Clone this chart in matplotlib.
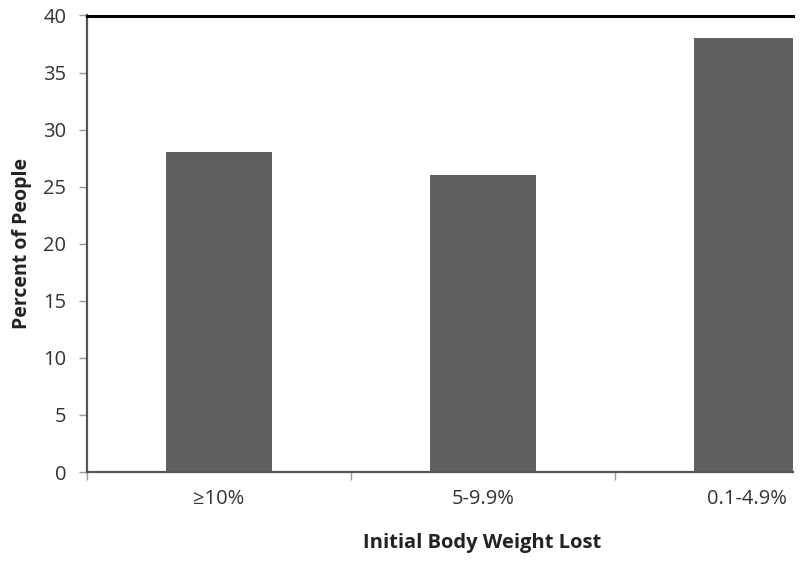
import matplotlib
matplotlib.use("Agg")
import matplotlib.pyplot as plt

# data
categories = ["≥10%", "5-9.9%", "0.1-4.9%"]
percent_people = [28, 26, 38]
y_ticks = [0, 5, 10, 15, 20, 25, 30, 35, 40]

plt.rcParams['font.family'] = ['Open Sans', 'DejaVu Sans']

fig = plt.figure(figsize=(8, 5.62), dpi=100)
# axes runs off the right edge like the cropped original
ax = fig.add_axes([87 / 800, 1 - 472 / 562, (793 - 87) / 800, (472 - 15.5) / 562])

x = list(range(len(categories)))
ax.bar(x, percent_people, width=0.4, color="#606060", zorder=2)

ax.set_xlim(-0.5, 2.174)
ax.set_ylim(0, 40)

ax.set_yticks(y_ticks)
ax.set_yticklabels([str(v) for v in y_ticks], fontsize=14.5, color="#333333")
ax.tick_params(axis="y", direction="out", length=6, width=1, color="#999999", pad=9)

# labels at category centres, tick marks at category boundaries
ax.set_xticks(x)
ax.set_xticklabels(categories, fontsize=14.5, color="#333333")
ax.tick_params(axis="x", which="major", length=0, pad=12)
ax.set_xticks([-0.5, 0.5, 1.5], minor=True)
ax.tick_params(axis="x", which="minor", direction="out", length=6, width=1, color="#999999")

ax.spines["right"].set_visible(False)
ax.spines["top"].set_linewidth(2.2)
ax.spines["top"].set_color("black")
ax.spines["left"].set_linewidth(1.6)
ax.spines["left"].set_color("#555555")
ax.spines["bottom"].set_linewidth(1.6)
ax.spines["bottom"].set_color("#555555")

ax.set_xlabel("Initial Body Weight Lost", fontsize=14.5, fontweight="bold", color="#222222")
ax.set_ylabel("Percent of People", fontsize=14, fontweight="bold", labelpad=8, color="#222222")
ax.xaxis.set_label_coords((482 - 87) / (793 - 87), -(543 - 472) / (472 - 15.5))
ax.xaxis.label.set_verticalalignment("center")

fig.savefig("out.png", dpi=100)
